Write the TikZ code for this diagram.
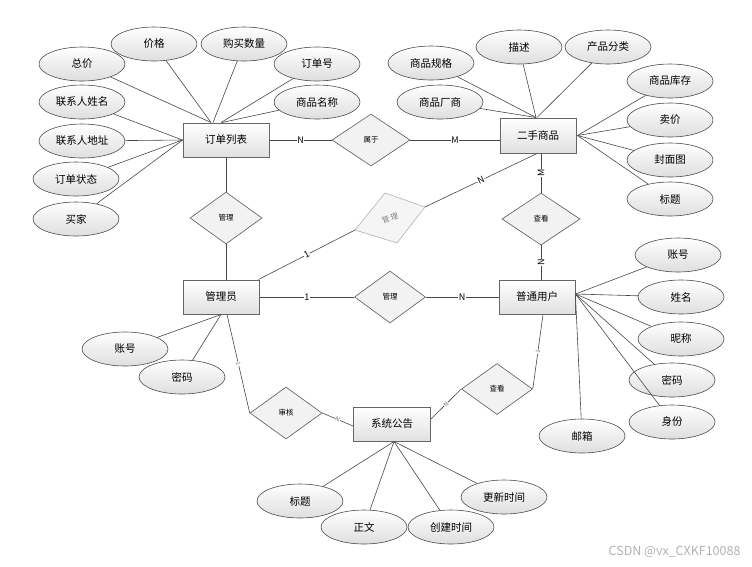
\documentclass[tikz,border=0pt]{standalone}
\usepackage{fontspec}
\setmainfont{Noto Sans CJK SC}
\usetikzlibrary{shapes.geometric}
\begin{document}
\begin{tikzpicture}[x=1pt,y=-1pt,
  attr/.style={ellipse, draw=black!70, line width=0.6pt, top color=white, bottom color=black!13,
    minimum width=86pt, minimum height=34pt, inner sep=0pt, font=\fontsize{10.5}{12}\selectfont},
  ent/.style={rectangle, draw=black!60, line width=1pt, top color=white, bottom color=black!12,
    minimum width=76pt, minimum height=34pt, inner sep=0pt, font=\fontsize{10.5}{12}\selectfont},
  rel/.style={diamond, draw=black!65, line width=0.6pt, fill=black!5,
    minimum width=72pt, minimum height=52pt, inner sep=0pt, font=\fontsize{7.5}{8}\selectfont},
  ln/.style={draw=black!72, line width=0.6pt},
  card/.style={fill=white, inner sep=0.6pt, font=\fontsize{9}{10}\selectfont},
  tiny/.style={fill=white, inner sep=0.3pt, text=black!55, font=\fontsize{6}{6}\selectfont, sloped}
]
\useasboundingbox (0,0) rectangle (752,566);

% entities
\node[ent, minimum width=86pt] (ol) at (226,140) {订单列表};
\node[ent, minimum height=35pt] (es) at (538,135.5) {二手商品};
\node[ent] (gly) at (221,297) {管理员};
\node[ent] (pt) at (537,297) {普通用户};
\node[ent, minimum width=77pt] (xt) at (392,424) {系统公告};

% attributes of 订单列表
\node[attr] (jg) at (154,44) {价格};
\node[attr] (gmsl) at (244,44) {购买数量};
\node[attr] (zj) at (82,64) {总价};
\node[attr] (ddh) at (317,64) {订单号};
\node[attr] (lxrxm) at (82,102) {联系人姓名};
\node[attr] (spmc) at (317,102) {商品名称};
\node[attr] (lxrdz) at (82,141) {联系人地址};
\node[attr] (ddzt) at (76,179) {订单状态};
\node[attr] (mj) at (76,219) {买家};

% attributes of 二手商品
\node[attr] (spgg) at (431,63) {商品规格};
\node[attr] (ms) at (519,47) {描述};
\node[attr] (cpfl) at (608,47) {产品分类};
\node[attr] (spcs) at (440,102) {商品厂商};
\node[attr] (spkc) at (670,81) {商品库存};
\node[attr] (mjia) at (670,120) {卖价};
\node[attr] (fmt) at (670,160) {封面图};
\node[attr] (bt) at (670,199) {标题};

% attributes of 管理员
\node[attr] (zh1) at (125,349) {账号};
\node[attr] (mm1) at (182,377) {密码};

% attributes of 普通用户
\node[attr] (zh2) at (678,255) {账号};
\node[attr] (xm) at (681,297) {姓名};
\node[attr] (nc) at (681,339) {昵称};
\node[attr] (mm2) at (672,380) {密码};
\node[attr] (sf) at (672,422) {身份};
\node[attr] (yx) at (582,436) {邮箱};

% attributes of 系统公告
\node[attr] (bt2) at (300,501) {标题};
\node[attr] (zw) at (364,527) {正文};
\node[attr] (cjsj) at (451,527) {创建时间};
\node[attr] (gxsj) at (504,497) {更新时间};

% relations
\node[rel, minimum width=78pt] (sy) at (371,140) {属于};
\node[rel] (gl1) at (226,218) {管理};
\node[rel, minimum width=78pt] (ck1) at (541,219) {查看};
\node[rel, minimum width=71pt] (gl2) at (390,297) {管理};
\node[rel] (sh) at (286,413) {审核};
\node[rel, minimum width=71pt, minimum height=51pt] (ck2) at (497,389) {查看};

% grey skewed diamond
\coordinate (g1) at (355,230);
\coordinate (g2) at (385,193);
\coordinate (g3) at (425,207);
\coordinate (g4) at (397,243);
\path[draw=black!30, line width=0.6pt, fill=black!4] (g1) -- (g2) -- (g3) -- (g4) -- cycle;
\node[text=black!50, rotate=18, inner sep=0pt, font=\fontsize{7.5}{8}\selectfont] (glg) at (390,218) {管\hspace{1.5pt}理};

% attribute connectors
\draw[ln] (zj) -- ([xshift=-15pt]ol.north);
\draw[ln] (jg) -- ([xshift=-15pt]ol.north);
\draw[ln] (gmsl) -- ([xshift=-13pt]ol.north);
\draw[ln] (ddh) -- ([xshift=-5pt]ol.north);
\draw[ln] (spmc) -- ([xshift=-4pt]ol.north);
\draw[ln] (lxrxm) -- (ol.west);
\draw[ln] (lxrdz) -- (ol.west);
\draw[ln] (ddzt) -- (ol.west);
\draw[ln] (mj) -- (ol.west);

\draw[ln] (spgg) -- ([xshift=-2pt]es.north);
\draw[ln] (spcs) -- ([xshift=-2pt]es.north);
\draw[ln] (ms) -- ([xshift=-2pt]es.north);
\draw[ln] (cpfl) -- ([xshift=-1pt]es.north);
\draw[ln] (spkc) -- ([xshift=1pt]es.east);
\draw[ln] (mjia) -- ([xshift=1pt]es.east);
\draw[ln] (fmt) -- ([xshift=1pt]es.east);
\draw[ln] (bt) -- ([xshift=1pt]es.east);

\draw[ln] (zh1) -- (gly.south);
\draw[ln] (mm1) -- (gly.south);

\draw[ln] (zh2) -- ([yshift=3pt]pt.east);
\draw[ln] (xm) -- ([yshift=3pt]pt.east);
\draw[ln] (nc) -- ([yshift=3pt]pt.east);
\draw[ln] (mm2) -- ([yshift=3pt]pt.east);
\draw[ln] (sf) -- ([yshift=3pt]pt.east);
\draw[ln] (yx) -- ([yshift=1pt]pt.east);

\draw[ln] (bt2) -- ([xshift=2pt]xt.south);
\draw[ln] (zw) -- ([xshift=2pt]xt.south);
\draw[ln] (cjsj) -- ([xshift=2pt]xt.south);
\draw[ln] (gxsj) -- ([xshift=2pt]xt.south);

% relationship connectors
\draw[ln] (ol.east) -- node[card]{N} (sy.west);
\draw[ln] (sy.east) -- node[card]{M} (sy.east -| es.west);
\draw[ln] (ol.south) -- (gl1.north);
\draw[ln] (gl1.south) -- (gl1.south |- gly.north);
\draw[ln] (es.south -| ck1.north) -- node[card, rotate=90]{M} (ck1.north);
\draw[ln] (ck1.south) -- node[card, rotate=90]{N} (ck1.south |- pt.north);
\draw[ln] (gly.east) -- node[card]{1} (gl2.west);
\draw[ln] (gl2.east) -- node[card]{N} (pt.west);
\draw[ln] ([xshift=-1pt]gly.north east) -- node[card, sloped]{1} (g1);
\draw[ln] (g3) -- node[card, sloped]{N} ([xshift=-1pt]es.south);
\draw[ln] ([xshift=6pt]gly.south) -- node[tiny]{1} (sh.west);
\draw[ln] (sh.east) -- node[tiny]{N} ([yshift=-2pt]xt.west);
\draw[ln] ([yshift=5pt]xt.east) -- node[tiny]{N} (ck2.west);
\draw[ln] (ck2.east) -- node[tiny]{1} ([xshift=6pt]pt.south);

% watermark
\node[text=black!30, font=\fontsize{12.5}{13}\selectfont, anchor=east] (wm) at (744,552) {CSDN @vx\_CXKF10088};
\end{tikzpicture}
\end{document}
